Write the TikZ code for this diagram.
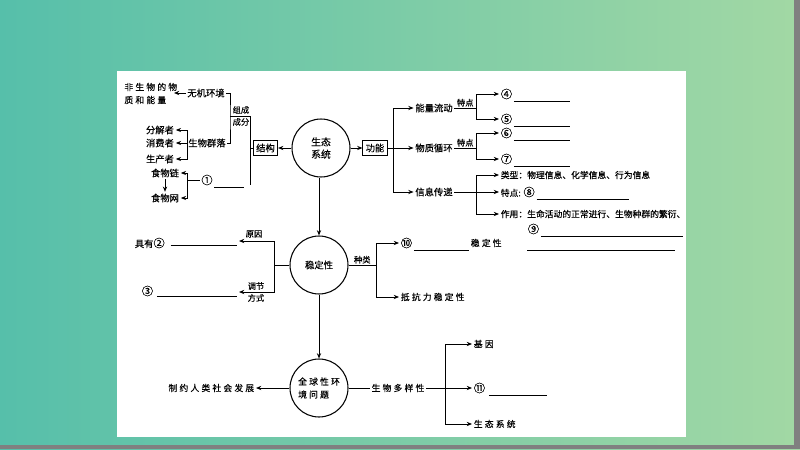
\documentclass[tikz,border=0pt]{standalone}
\usepackage{fontspec}
\newfontfamily\cjk{Noto Sans CJK SC}[FakeBold=0.35]
\usetikzlibrary{arrows.meta}
\definecolor{bgleft}{RGB}{86,191,170}
\definecolor{bgright}{RGB}{162,216,164}
\definecolor{edgegray}{RGB}{128,128,128}
\newcommand\qn[1]{{\fontsize{6.4}{6.6}\selectfont#1}}

\begin{document}
\begin{tikzpicture}[x=0.02cm,y=0.02cm,line width=0.5pt,
  every node/.style={inner sep=0.8pt,font=\cjk\fontsize{5.3}{6.6}\selectfont},
  lbl/.style={font=\cjk\fontsize{4.7}{5.6}\selectfont,inner sep=0.6pt},
  info/.style={anchor=west,font=\cjk\fontsize{5}{6}\selectfont},
  spaced/.style={font=\cjk\fontsize{5}{7.4}\selectfont\addfontfeatures{LetterSpace=25}},
  box/.style={draw,inner sep=1.6pt},
  hub/.style={draw,circle,minimum size=1.16cm,inner sep=0pt,align=center,line width=0.6pt},
  arr/.style={-{Stealth[length=3pt,width=2.4pt]}},
  blank/.style={line width=0.4pt}]
\useasboundingbox (0,0) rectangle (800,-449);
\shade[left color=bgleft,right color=bgright] (0,0) rectangle (800,-449);
\fill[edgegray] (794,0) rectangle (800,-449);
\fill[edgegray] (0,-445) rectangle (800,-449);
\fill[white] (117,-71) rectangle (686,-437);

\node[spaced,anchor=west,align=left,inner sep=0pt] (abio) at (124,-93.5) {非生物的物\\质和能量};
\node (wuji) at (206,-93) {无机环境};
\node (qunluo) at (207,-143) {生物群落};
\node (fenjie) at (160,-130) {分解者};
\node (xiaofei) at (160,-143) {消费者};
\node (shengchan) at (160,-159) {生产者};
\node (lian) at (165,-173) {食物链};
\node (wang) at (165,-198) {食物网};
\node (q1) at (207,-180) {\qn{①}};
\node[box] (jiegou) at (265.5,-148) {结构};
\node[lbl] (zucheng) at (241,-110) {组成};
\node[lbl] (chengfen) at (241,-122) {成分};
\coordinate (abioR) at (174,-93);
\coordinate (zuA) at (230,-116);
\coordinate (zuB) at (250,-116);
\coordinate (zuC) at (250,-185);
\coordinate (qunL) at (187,-143);
\coordinate (lianL) at (187,-180);
\draw[arr] (wuji.west) -- (abioR);
\draw (wuji.east) -| (zuA) |- (qunluo.east);
\draw (zuA) -- (zuB) -- (zuC);
\draw (zuB |- jiegou.west) -- (jiegou.west);
\draw (qunluo.west) -- (qunL);
\draw[arr] (qunL) |- (fenjie.east);
\draw[arr] (qunL) -- (xiaofei.east);
\draw[arr] (qunL) |- (shengchan.east);
\draw (q1.west) -- (lianL);
\draw[arr] (lianL) |- (lian.east);
\draw[arr] (lianL) |- (wang.east);
\draw[arr] (lian.south) -- (wang.north);
\draw[blank] (q1.south east) -- ++(30,0);

\node[hub,font=\cjk\fontsize{5.6}{7}\selectfont] (eco) at (321,-148) {生态\\系统};
\node[box] (gongneng) at (375,-148) {功能};
\node[hub] (wd) at (319,-265) {稳定性};
\node[hub,spaced,align=left] (gl) at (319,-388) {全球性环\\境问题};
\draw[arr] (eco) -- (jiegou);
\draw[arr] (eco) -- (gongneng);
\draw[arr] (eco.south -| wd.north) -- (wd.north);
\draw[arr] (wd.south) -- (gl.north);

\node (nengliang) at (434,-108) {能量流动};
\node (wuzhi) at (434,-148) {物质循环};
\node (xinxi) at (434,-192) {信息传递};
\coordinate (gnR) at (393,-148);
\draw (gongneng.east) -- (gnR);
\draw[arr] (gnR) |- (nengliang.west);
\draw[arr] (gnR) -- (wuzhi.west);
\draw[arr] (gnR) |- (xinxi.west);

\node[anchor=west] (c4) at (499,-94) {\qn{④}};
\node[anchor=west] (c5) at (499,-119) {\qn{⑤}};
\node[anchor=west] (c6) at (499,-133) {\qn{⑥}};
\node[anchor=west] (c7) at (499,-159) {\qn{⑦}};
\coordinate (nlR) at (476,-108);
\coordinate (wzR) at (476,-148);
\draw (nengliang.east) -- (nlR) node[lbl,midway,above] (td1) {特点};
\draw (wuzhi.east) -- (wzR) node[lbl,midway,above] (td2) {特点};
\draw[arr] (nlR) |- (c4.west);
\draw[arr] (nlR) |- (c5.west);
\draw[arr] (wzR) |- (c6.west);
\draw[arr] (wzR) |- (c7.west);
\draw[blank] (c4.south east) -- ++(56,0);
\draw[blank] (c5.south east) -- ++(56,0);
\draw[blank] (c6.south east) -- ++(56,0);
\draw[blank] (c7.south east) -- ++(56,0);

\node[info] (leixing) at (499,-175) {类型：物理信息、化学信息、行为信息};
\node[info] (tedian) at (499,-192) {特点: \qn{⑧}};
\node[info] (zuoyong) at (499,-214) {作用：生命活动的正常进行、生物种群的繁衍、};
\node[info] (c9) at (526,-229) {\qn{⑨}};
\coordinate (xxR) at (476,-192);
\draw[arr] (xinxi.east) -- (tedian.west);
\draw[arr] (xxR) |- (leixing.west);
\draw[arr] (xxR) |- (zuoyong.west);
\draw[blank] (tedian.south east) -- ++(92,0);
\draw[blank] (c9.south east) -- ++(142,0);

\coordinate (wdR) at (376,-265);
\draw (wd.east) -- (wdR) node[lbl,midway,above] (zhonglei) {种类};
\node[anchor=west] (c10) at (399,-243) {\qn{⑩}};
\node[spaced,anchor=west] (wdx) at (469,-243) {稳定性};
\node[spaced,anchor=west] (dikang) at (399,-297) {抵抗力稳定性};
\draw[arr] (wdR) |- (c10.west);
\draw[arr] (wdR) |- (dikang.west);
\draw[blank] (c10.south east) -- ++(55,0);
\draw[blank] (527,-250) -- (675,-250);

\coordinate (wdL) at (274,-265);
\coordinate (y2) at (239,-241);
\coordinate (y3) at (239,-292);
\node[anchor=west] (c2) at (133,-243) {具有\qn{②}};
\node[anchor=west] (c3) at (140,-291) {\qn{③}};
\node[lbl] (yuanyin) at (254,-234) {原因};
\node[lbl] (tiaojie) at (256,-286) {调节};
\node[lbl] (fangshi) at (256,-298) {方式};
\draw (wd.west) -- (wdL);
\draw[arr] (wdL) |- (y2);
\draw[arr] (wdL) |- (y3);
\draw[blank] (c2.east) ++(4,-2) -- (237,-245);
\draw[blank] (c3.east) ++(2,-5) -- (237,-296);

\node[spaced,anchor=east] (zhiyue) at (256,-388) {制约人类社会发展};
\node[spaced] (duoyang) at (398,-388) {生物多样性};
\node[spaced,anchor=west] (jiyin) at (472,-344) {基因};
\node[anchor=west] (c11) at (472,-388) {\qn{⑪}};
\node[spaced,anchor=west] (xitong) at (472,-424) {生态系统};
\coordinate (dyR) at (445,-388);
\draw[arr] (gl.west) -- (zhiyue.east);
\draw (gl.east) -- (duoyang.west);
\draw[arr] (duoyang.east) -- (c11.west);
\draw[arr] (dyR) |- (jiyin.west);
\draw[arr] (dyR) |- (xitong.west);
\draw[blank] (c11.south east) ++(2,0) -- ++(58,0);
\end{tikzpicture}
\end{document}
